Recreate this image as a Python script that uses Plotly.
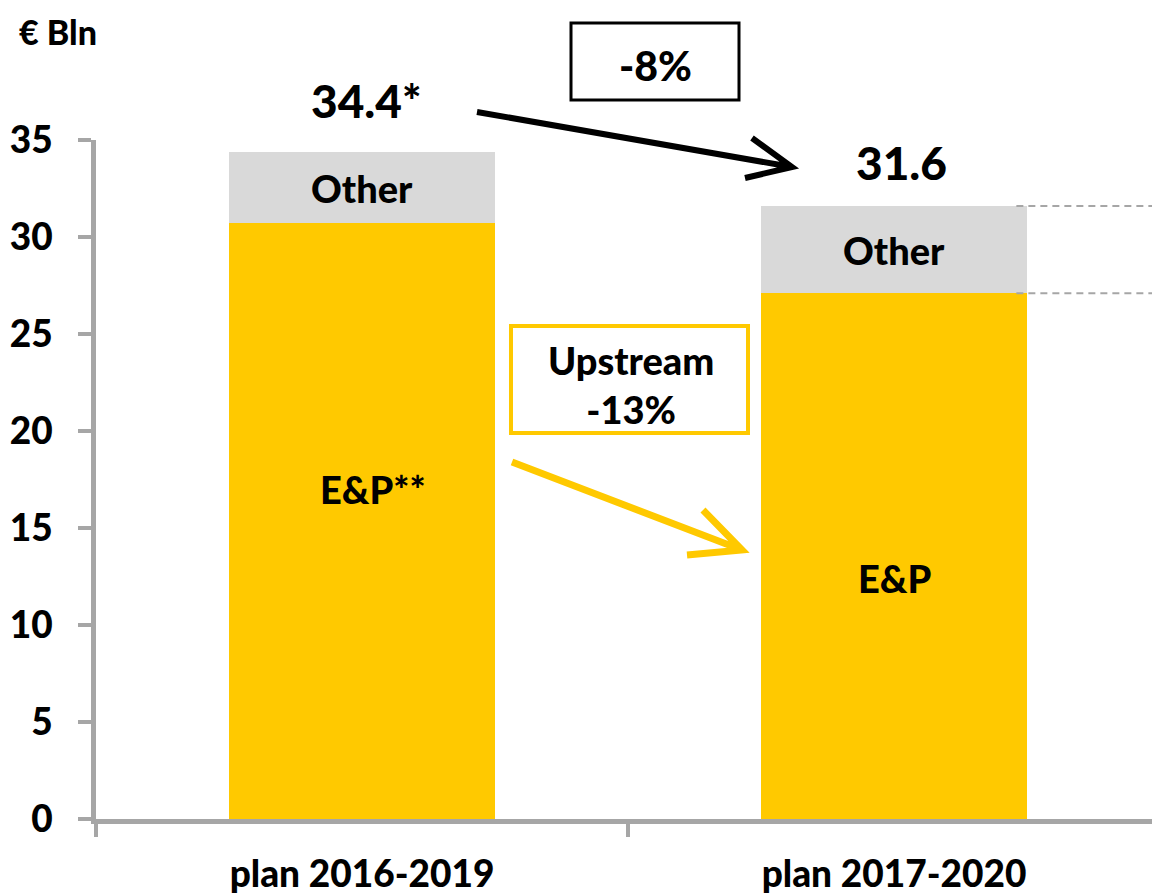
import plotly.graph_objects as go

# Capex plan values, EUR bn
periods = ["plan 2016-2019", "plan 2017-2020"]
ep_values = [30.7, 27.1]
other_values = [3.7, 4.5]
totals = [34.4, 31.6]
ep_labels = ["E&P**", "E&P"]
total_labels = ["34.4*", "31.6"]
y_ticks = [0, 5, 10, 15, 20, 25, 30, 35]

YELLOW = "#FFC900"
GREY_BAR = "#D9D9D9"
AXIS = "#A6A6A6"
FONT = "Lato"
WEIGHT = 900

# the page body adds an 8px margin, so the figure is 8px smaller
PAD = 8
W, H = 1160 - PAD, 894 - PAD
# plot area in page pixels, used to place the arrows/boxes in paper coords
L, R, T, B = 96, 1160, 140, 819


def px(x):
    return (x - L) / (R - L)


def py(y):
    return (B - y) / (B - T)


fig = go.Figure()
fig.add_trace(go.Bar(x=periods, y=ep_values, marker_color=YELLOW, width=0.5,
                     marker_line_width=0, hoverinfo="skip"))
fig.add_trace(go.Bar(x=periods, y=other_values, marker_color=GREY_BAR, width=0.5,
                     marker_line_width=0, hoverinfo="skip"))

annotations = []
bold = dict(family=FONT, color="black", weight=WEIGHT)


def label(x, y, text, size, ref="paper"):
    return dict(x=x, y=y, xref=ref if ref == "paper" else "x", yref=ref if ref == "paper" else "y",
                text=text, showarrow=False, xanchor="center", yanchor="middle",
                font=dict(size=size, **bold))


for i in range(2):
    # "Other" label in the middle of the grey segment
    annotations.append(label(i, ep_values[i] + other_values[i] / 2, "Other", 38, ref="data"))

annotations.append(label(0.02, 17.0, ep_labels[0], 38, ref="data"))
annotations.append(label(1.0, 12.4, ep_labels[1], 38, ref="data"))

annotations.append(label(px(366), py(100), total_labels[0], 46))
annotations.append(label(px(901), py(162), total_labels[1], 46))

annotations.append(label(px(655), py(66), "-8%", 41))
annotations.append(label(px(631), py(384), "Upstream<br>-13%", 38))
annotations.append(label(px(58), py(32), "€ Bln", 34))

shapes = []
# dashed reference lines from the second bar
for key in (ep_values[1], totals[1]):
    shapes.append(dict(type="line", xref="x", yref="y", x0=1.23, x1=1.5, y0=key, y1=key,
                       line=dict(color=AXIS, width=2, dash="7px,5px")))

# boxes
shapes.append(dict(type="rect", xref="paper", yref="paper",
                   x0=px(571), x1=px(739), y0=py(100), y1=py(23),
                   line=dict(color="black", width=3), fillcolor="white", layer="below"))
shapes.append(dict(type="rect", xref="paper", yref="paper",
                   x0=px(511), x1=px(748), y0=py(433), y1=py(326),
                   line=dict(color=YELLOW, width=4), fillcolor="white", layer="below"))


def arrow(a, b, c1, c2, color, w):
    path = (f"M {px(a[0])},{py(a[1])} L {px(b[0])},{py(b[1])} "
            f"M {px(c1[0])},{py(c1[1])} L {px(b[0])},{py(b[1])} L {px(c2[0])},{py(c2[1])}")
    return dict(type="path", xref="paper", yref="paper", path=path,
                line=dict(color=color, width=w))


shapes.append(arrow((477, 112), (792, 167), (752, 138), (745, 178), "black", 6))
shapes.append(arrow((512, 462), (742, 550), (703, 510), (687, 555), YELLOW, 7))

fig.update_layout(
    barmode="stack",
    width=W, height=H,
    margin=dict(l=L - PAD, r=0, t=T - PAD, b=894 - B),
    plot_bgcolor="white", paper_bgcolor="white",
    showlegend=False,
    annotations=annotations,
    shapes=shapes,
    xaxis=dict(
        type="category", range=[-0.5, 1.5], tickson="boundaries", automargin=False,
        showline=True, linecolor=AXIS, linewidth=5, ticks="outside", ticklen=13,
        tickwidth=4, tickcolor=AXIS, showgrid=False, zeroline=False,
        tickfont=dict(family=FONT, size=37, color="black", weight=WEIGHT),
        ticklabelstandoff=19,
    ),
    yaxis=dict(
        range=[0, 35], tickvals=y_ticks, showline=True, linecolor=AXIS, linewidth=5,
        ticks="outside", ticklen=13, tickwidth=4, tickcolor=AXIS, showgrid=False,
        zeroline=False, automargin=False,
        tickfont=dict(family=FONT, size=37, color="black", weight=WEIGHT),
        ticklabelstandoff=18,
    ),
)

fig.write_html("out.html")
